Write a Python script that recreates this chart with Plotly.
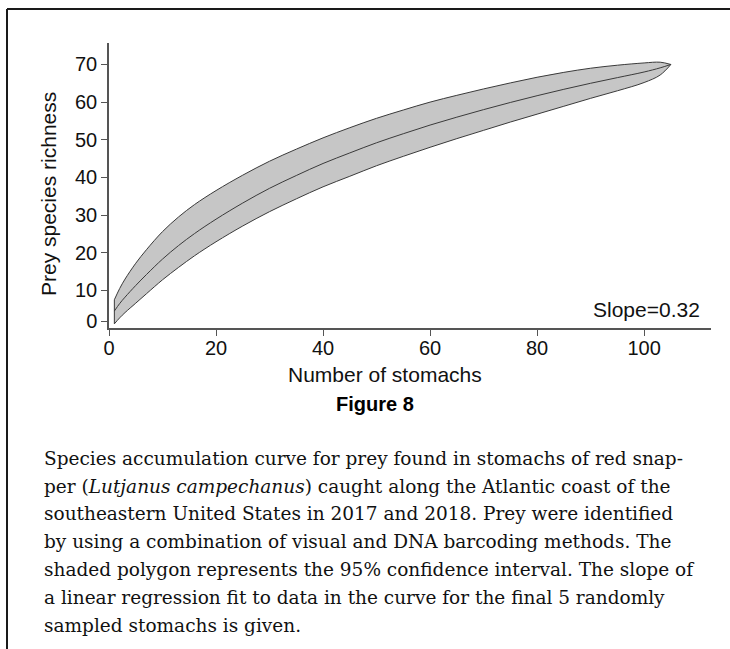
import plotly.graph_objects as go

# ---- data ----
stomachs = [1, 2, 3, 5, 7, 10, 13, 16, 20, 25, 30, 35, 40, 45, 50, 55, 60, 65, 70, 75, 80, 85,
            90, 95, 100, 103, 105]
richness_mean = [4.5, 6.5, 8.2, 11.3, 14.2, 18.3, 21.9, 25.1, 28.9, 33.2, 37.1, 40.5, 43.7, 46.5,
                 49.2, 51.6, 53.9, 56.0, 58.0, 59.9, 61.7, 63.4, 65.0, 66.5, 68.0, 69.1, 70.0]
ci_upper = [7.5, 10.5, 13.0, 17.2, 20.8, 25.6, 29.5, 32.8, 36.5, 40.6, 44.3, 47.5, 50.5, 53.2,
            55.7, 57.9, 60.0, 61.8, 63.5, 65.1, 66.6, 67.9, 69.0, 69.8, 70.4, 70.6, 70.0]
ci_lower = [1.1, 2.7, 4.1, 6.6, 9.1, 12.8, 16.1, 19.2, 22.9, 27.1, 30.9, 34.3, 37.5, 40.3,
            43.1, 45.6, 48.0, 50.3, 52.5, 54.7, 56.8, 58.9, 61.0, 63.0, 65.2, 67.2, 70.0]

x_tick_vals = [0, 20, 40, 60, 80, 100]
x_tick_text = ["0", "20", "40", "60", "80", "100"]
y_tick_text = ["0", "10", "20", "30", "40", "50", "60", "70"]
y_tick_vals = [1.86, 10, 20, 30, 40, 50, 60, 70]

slope_label = "Slope=0.32"
x_title = "Number of stomachs"
y_title = "Prey species richness"
fig_label = "Figure 8"
caption_lines = [
    "Species accumulation curve for prey found in stomachs of red snap-",
    "per (<i>Lutjanus campechanus</i>) caught along the Atlantic coast of the",
    "southeastern United States in 2017 and 2018. Prey were identified",
    "by using a combination of visual and DNA barcoding methods. The",
    "shaded polygon represents the 95% confidence interval. The slope of",
    "a linear regression fit to data in the curve for the final 5 randomly",
    "sampled stomachs is given.",
]

# ---- layout geometry (pixels) ----
W, H = 730, 649
L, R, T, B = 109, 711, 43, 328


def px(X, Y):
    return (X - L) / (R - L), (B - Y) / (B - T)


edge = "#3a3a3a"
fill = "#c6c6c6"
axis_col = "#555555"
sans = "Liberation Sans, Arial, sans-serif"
serif = "DejaVu Serif, serif"

fig = go.Figure()
fig.add_trace(go.Scatter(x=stomachs, y=ci_lower, mode="lines",
                         line=dict(color=edge, width=1, shape="spline", smoothing=1),
                         hoverinfo="skip"))
fig.add_trace(go.Scatter(x=stomachs, y=ci_upper, mode="lines", fill="tonexty", fillcolor=fill,
                         line=dict(color=edge, width=1, shape="spline", smoothing=1),
                         hoverinfo="skip"))
fig.add_trace(go.Scatter(x=[stomachs[0], stomachs[0]], y=[ci_lower[0], ci_upper[0]], mode="lines",
                         line=dict(color=edge, width=1), hoverinfo="skip"))
fig.add_trace(go.Scatter(x=stomachs, y=richness_mean, mode="lines",
                         line=dict(color=edge, width=1, shape="spline", smoothing=1),
                         hoverinfo="skip"))

annotations = []
xa, ya = px(48, 194)
annotations.append(dict(text=y_title, x=xa, y=ya, xref="paper", yref="paper", showarrow=False,
                        textangle=-90, xanchor="center", yanchor="middle",
                        font=dict(family=sans, size=21, color="#111")))
xa, ya = px(384.5, 374)
annotations.append(dict(text=x_title, x=xa, y=ya, xref="paper", yref="paper", showarrow=False,
                        xanchor="center", yanchor="middle",
                        font=dict(family=sans, size=21, color="#111")))
xa, ya = px(702, 309)
annotations.append(dict(text=slope_label, x=xa, y=ya, xref="paper", yref="paper", showarrow=False,
                        xanchor="right", yanchor="middle",
                        font=dict(family=sans, size=21, color="#111")))
xa, ya = px(375, 404)
annotations.append(dict(text="<b>" + fig_label + "</b>", x=xa, y=ya, xref="paper", yref="paper",
                        showarrow=False, xanchor="center", yanchor="middle",
                        font=dict(family=sans, size=20, color="#000")))
line_y = [458, 486, 513, 541, 569, 597, 625]
for t, yy in zip(caption_lines, line_y):
    xa, ya = px(42, yy)
    annotations.append(dict(text=t, x=xa, y=ya, xref="paper", yref="paper", showarrow=False,
                            xanchor="left", yanchor="middle",
                            font=dict(family=serif, size=18.5, color="#111")))

x0, y0 = px(7, 9)
x1, _ = px(740, 9)
_, y1 = px(7, 660)
shapes = [
    dict(type="line", xref="paper", yref="paper", x0=x0, x1=x1, y0=y0, y1=y0,
         line=dict(color="#1a1a1a", width=2)),
    dict(type="line", xref="paper", yref="paper", x0=x0, x1=x0, y0=y0, y1=y1,
         line=dict(color="#1a1a1a", width=2)),
]

fig.update_layout(
    width=W, height=H,
    margin=dict(l=L, r=W - R, t=T, b=H - B, pad=0),
    paper_bgcolor="white", plot_bgcolor="white",
    showlegend=False,
    annotations=annotations,
    shapes=shapes,
    xaxis=dict(range=[0, 112.5], showgrid=False, zeroline=False, showline=True,
               linecolor=axis_col, linewidth=1.5, ticks="outside", ticklen=6, tickwidth=1,
               tickcolor=axis_col, tickvals=x_tick_vals, ticktext=x_tick_text,
               ticklabelstandoff=-5,
               tickfont=dict(family=sans, size=20, color="#111")),
    yaxis=dict(range=[0, 75.7], showgrid=False, zeroline=False, showline=True,
               linecolor=axis_col, linewidth=1.5, ticks="outside", ticklen=6, tickwidth=1,
               tickcolor=axis_col, tickvals=y_tick_vals, ticktext=y_tick_text,
               ticklabelstandoff=0,
               tickfont=dict(family=sans, size=20, color="#111")),
)

fig.write_html(
    "out.html",
    config={"displayModeBar": False},
    post_script="document.body.style.margin='0px';document.body.style.padding='0px';"
                "document.body.style.overflow='hidden';",
)
